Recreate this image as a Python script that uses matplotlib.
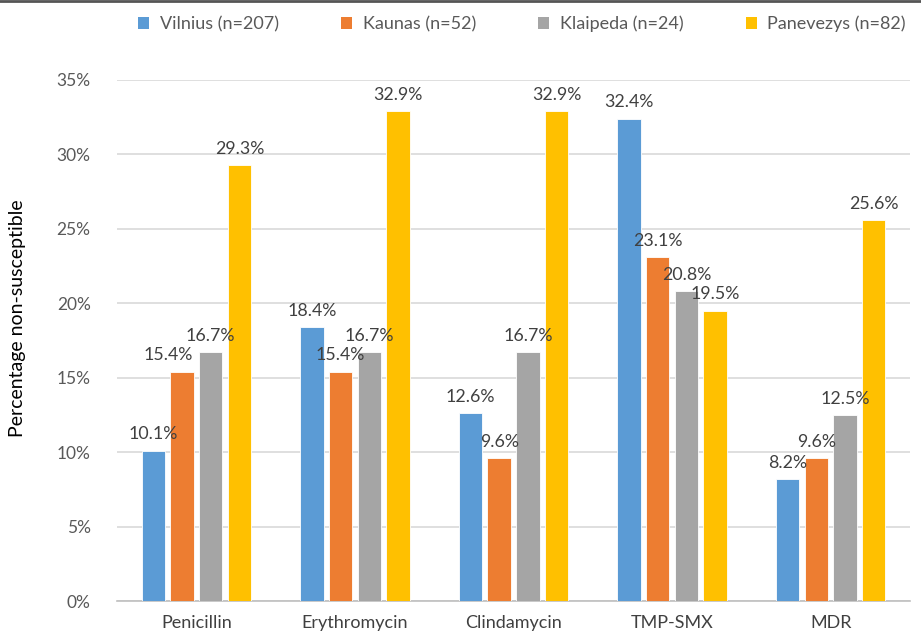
import matplotlib
matplotlib.use("Agg")
import matplotlib.pyplot as plt
import numpy as np
from matplotlib.lines import Line2D
from matplotlib.patches import Patch

categories = ["Penicillin", "Erythromycin", "Clindamycin", "TMP-SMX", "MDR"]
series_names = ["Vilnius (n=207)", "Kaunas (n=52)", "Klaipeda (n=24)", "Panevezys (n=82)"]
vilnius = [10.1, 18.4, 12.6, 32.4, 8.2]
kaunas = [15.4, 15.4, 9.6, 23.1, 9.6]
klaipeda = [16.7, 16.7, 16.7, 20.8, 12.5]
panevezys = [29.3, 32.9, 32.9, 19.5, 25.6]
yticks = [0, 5, 10, 15, 20, 25, 30, 35]

colors = ["#5B9BD5", "#ED7D31", "#A5A5A5", "#FFC000"]
FONT = ["Lato", "DejaVu Sans"]
plt.rcParams["font.family"] = FONT

fig = plt.figure(figsize=(9.21, 6.33), dpi=100)
ax = fig.add_axes([117/921, 1 - 601/633, (910-117)/921, (601-80)/633])

x = np.arange(len(categories))
step = 0.181
width = 0.148
data = [vilnius, kaunas, klaipeda, panevezys]
label_dx = {(1, 0): -14}  # pixel shift for overlapping label (Kaunas, Penicillin)
for i, (vals, c) in enumerate(zip(data, colors)):
    pos = x + (i - 1.5) * step
    ax.bar(pos, vals, width, color=c, edgecolor="white", linewidth=0.6, zorder=3)
    for j, (p, v) in enumerate(zip(pos, vals)):
        dx = label_dx.get((i, j), 0)
        ax.annotate(f"{v:.1f}%", (p, v), xytext=(dx * 0.72, 6), textcoords="offset points",
                    ha="center", va="bottom", fontsize=12.8, color="#404040", zorder=4)

ax.set_xlim(-0.5, 4.5)
ax.set_ylim(0, 35)
ax.set_yticks(yticks)
ax.set_yticklabels([f"{t}%" for t in yticks], fontsize=12.5, color="#595959")
ax.set_xticks(x)
ax.set_xticklabels(categories, fontsize=13, color="#404040")
ax.tick_params(axis="x", length=0, pad=10)
ax.tick_params(axis="y", length=0, pad=19)
ax.grid(axis="y", color="#D9D9D9", linewidth=1.2, zorder=0)
for s in ["top", "right", "left"]:
    ax.spines[s].set_visible(False)
ax.spines["bottom"].set_color("#BFBFBF")
ax.spines["bottom"].set_linewidth(1.2)

fig.text(18/921, 1 - 318/633, "Percentage non-susceptible", rotation=90, ha="center", va="center",
         fontsize=14, color="#000000")

handles = [Patch(facecolor=c, edgecolor="none") for c in colors]
fig.legend(handles, series_names, loc="center", bbox_to_anchor=(522/921, 1 - 24/633), ncol=4,
           frameon=False, fontsize=13, handlelength=0.6, handleheight=0.6, handletextpad=0.6,
           columnspacing=3.45, labelcolor="#595959")

fig.add_artist(Line2D([0, 1], [1 - 1/633, 1 - 1/633], color="#555555", linewidth=2,
                      transform=fig.transFigure))

fig.savefig("out.png", dpi=100)
